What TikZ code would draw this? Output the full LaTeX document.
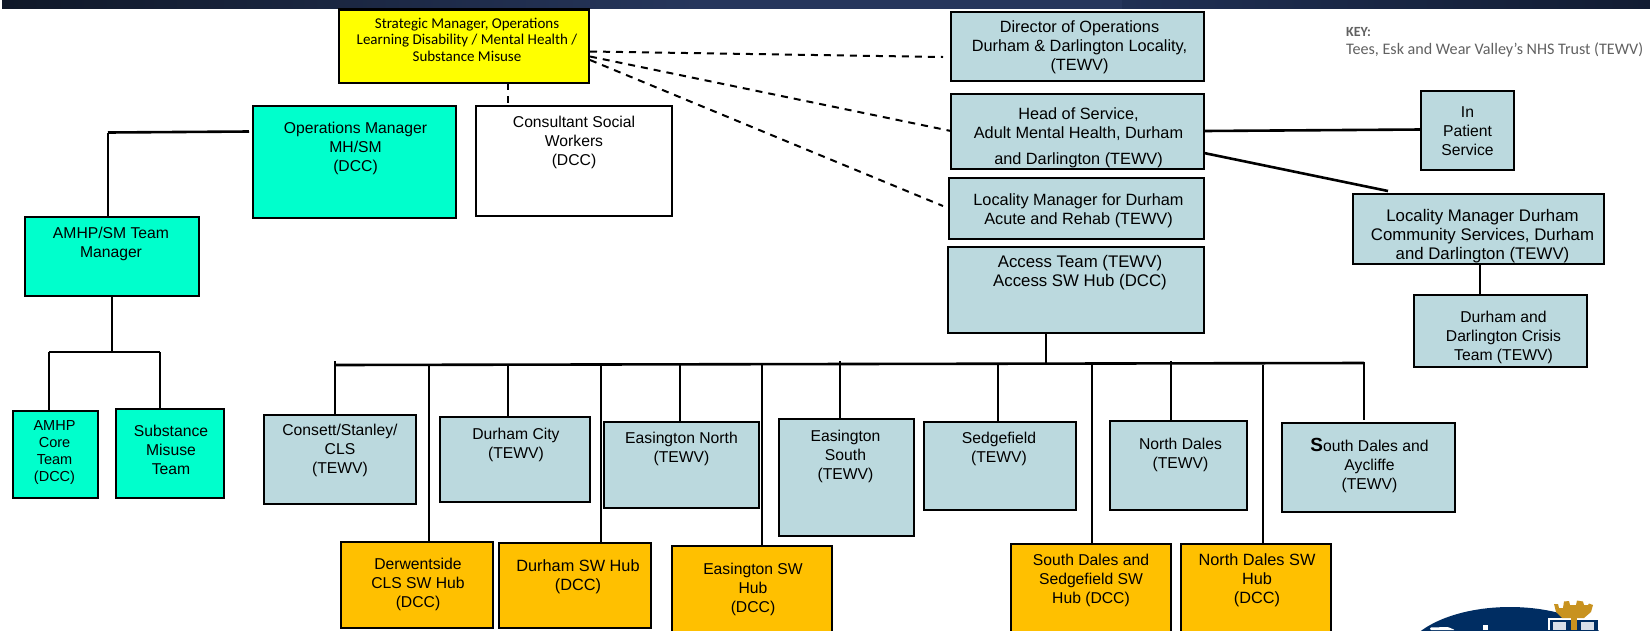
\documentclass[tikz,border=0pt]{standalone}
\usepackage{fontspec}
\setmainfont{Liberation Sans}
\newfontfamily\calib{Carlito}
\definecolor{purefill}{HTML}{FFFF00}
\definecolor{tealfill}{HTML}{00FFCC}
\definecolor{palefill}{HTML}{BBD9DE}
\definecolor{amberfill}{HTML}{FFC000}
\definecolor{logonavy}{HTML}{002D62}
\definecolor{crestgold}{HTML}{C8921F}
\definecolor{barA}{HTML}{101828}
\definecolor{barB}{HTML}{26365C}
\definecolor{barC}{HTML}{203054}
\definecolor{barD}{HTML}{121C32}
\tikzset{
  cardbox/.style={draw=black,line width=2.4pt,inner sep=0pt,outer sep=0pt,anchor=north west,font=\fontsize{15.7}{19}\selectfont},
  yellowbox/.style={cardbox,fill=purefill,font=\calib\fontsize{15}{16.5}\selectfont},
  tealbox/.style={cardbox,fill=tealfill},
  corebox/.style={cardbox,fill=tealfill,font=\fontsize{14.5}{17}\selectfont},
  whitebox/.style={cardbox,fill=white},
  palebox/.style={cardbox,fill=palefill},
  amberbox/.style={cardbox,fill=amberfill},
  widetext/.style={font=\fontsize{16.3}{19}\selectfont},
  widertext/.style={font=\fontsize{16.8}{19}\selectfont},
  link/.style={draw=black,line width=1.8pt},
  buslink/.style={draw=black,line width=2.6pt},
  dashlink/.style={draw=black,line width=2pt,dash pattern=on 7pt off 6pt},
  keytext/.style={inner sep=0pt,anchor=base west,text=black!62,font=\calib\fontsize{16.1}{18}\selectfont},
}
% name, style, x0, y0, x1, y1, first-baseline offset, text shift, text
\newcommand{\bx}[9]{%
  \pgfmathsetlengthmacro{\bw}{(#5)-(#3)}%
  \pgfmathsetlengthmacro{\bh}{(#6)-(#4)}%
  \node[#2] (#1) at (#3,#4) {\parbox[t][\bh][t]{\bw}{\centering
    \leftskip=\dimexpr #8pt*2\relax plus 1fil
    \rule{0pt}{#7pt}#9}};}
\begin{document}
\begin{tikzpicture}[x=1pt,y=-1pt]
\useasboundingbox (0,0) rectangle (1650,630);
% banner
\shade[left color=barA,right color=barB,draw=none] (2,-1) rectangle (700,8.5);
\fill[barB] (699,-1) rectangle (1123,8.5);
\shade[left color=barC,right color=barD,draw=none] (1122,-1) rectangle (1651,8.5);
% boxes
\bx{strategic}{yellowbox}{339}{9.5}{589}{83}{18.5}{3}{Strategic Manager, Operations\\Learning Disability / Mental Health /\\Substance Misuse}
\bx{opsmgr}{tealbox}{253}{106}{456}{218}{27}{1}{Operations Manager\\MH/SM\\(DCC)}
\bx{consultant}{whitebox}{476}{106}{672}{216}{21}{0}{Consultant Social\\Workers\\(DCC)}
\bx{amhpsm}{tealbox}{25}{217}{199}{296}{21}{-1}{AMHP/SM Team\\Manager}
\bx{amhpcore}{corebox}{13}{411}{98}{498}{19}{-1}{AMHP\\Core\\Team\\(DCC)}
\bx{substance}{tealbox}{116}{409}{224}{498}{27}{1}{Substance\\Misuse\\Team}
\bx{director}{palebox,widetext}{951}{12}{1204}{81}{20}{2}{Director of Operations\\Durham \& Darlington Locality,\\(TEWV)}
\bx{head}{palebox,widetext}{951}{94}{1204}{169}{25.5}{1}{Head of Service,\\Adult Mental Health, Durham\\[7pt]and Darlington (TEWV)}
\bx{acute}{palebox,widetext}{949}{178}{1204}{239}{27}{2}{Locality Manager for Durham\\Acute and Rehab (TEWV)}
\bx{access}{palebox,widertext}{948}{247}{1204}{333}{20.5}{4}{Access Team (TEWV)\\Access SW Hub (DCC)}
\bx{inpatient}{palebox}{1421}{91}{1514}{170}{26}{0}{In\\Patient\\Service}
\bx{community}{palebox,widertext}{1353}{194}{1604}{264}{27}{4}{Locality Manager Durham\\Community Services, Durham\\and Darlington (TEWV)}
\bx{crisis}{palebox}{1414}{295}{1587}{367}{27}{3}{Durham and\\Darlington Crisis\\Team (TEWV)}
\bx{consett}{palebox}{264}{415}{416}{504}{20}{0}{Consett/Stanley/\\CLS\\(TEWV)}
\bx{durcity}{palebox}{440}{417}{590}{502}{22}{1}{Durham City\\(TEWV)}
\bx{easnorth}{palebox}{604}{422}{759}{508}{21}{0}{Easington North\\(TEWV)}
\bx{eassouth}{palebox}{779}{419}{914}{536}{22}{-1}{Easington\\South\\(TEWV)}
\bx{sedge}{palebox}{924}{422}{1076}{510}{21}{-1}{Sedgefield\\(TEWV)}
\bx{northd}{palebox}{1110}{421}{1247}{510}{28}{2}{North Dales\\(TEWV)}
\bx{southd}{palebox}{1282}{423}{1455}{512}{28}{1}{{\bfseries\fontsize{19}{19}\selectfont S}outh Dales and\\Aycliffe\\(TEWV)}
\bx{derwent}{amberbox}{341}{542}{493}{628}{27}{1}{Derwentside\\CLS SW Hub\\(DCC)}
\bx{durhub}{amberbox,widetext}{499}{543}{651}{628}{28}{3}{Durham SW Hub\\(DCC)}
\bx{eashub}{amberbox}{672}{546}{832}{634}{28}{1}{Easington SW\\Hub\\(DCC)}
\bx{southhub}{amberbox}{1011}{544}{1171}{632}{21}{0}{South Dales and\\Sedgefield SW\\Hub (DCC)}
\bx{northhub}{amberbox,widetext}{1181}{544}{1331}{632}{21}{1}{North Dales SW\\Hub\\(DCC)}
% key
\node[keytext,font=\calib\bfseries\fontsize{14}{16}\selectfont] (keyhead) at (1346,36) {KEY:};
\node[keytext] (keyline) at (1346,54.5) {Tees, Esk and Wear Valley’s NHS Trust (TEWV)};
% dashed links
\coordinate (sA) at (590,51.5);
\coordinate (sB) at (590,56.5);
\coordinate (sC) at (590,60);
\coordinate (sD) at (508,83);
\coordinate (dA) at (943,57);
\coordinate (dB) at (951,131);
\coordinate (dC) at (943,206);
\draw[dashlink] (sA) -- (dA);
\draw[dashlink] (sB) -- (dB);
\draw[dashlink] (sC) -- (dC);
\draw[dashlink] (sD) -- (sD |- consultant.north);
% left tree
\coordinate (omOut) at (249,131.5);
\coordinate (omElbow) at (108,132.5);
\draw[buslink] (omOut) -- (omElbow);
\draw[link] (omElbow) -- (omElbow |- amhpsm.north);
\coordinate (smOut) at (112,296);
\coordinate (smBusL) at (49,352);
\coordinate (smBusR) at (160,352);
\coordinate (smBusM) at (112,352);
\draw[link] (smOut) -- (smBusM);
\draw[buslink] (smBusL) -- (smBusR);
\draw[link] (smBusL) -- (smBusL |- amhpcore.north);
\draw[link] (smBusR) -- (smBusR |- substance.north);
% right links
\coordinate (hA) at (1204,131);
\coordinate (ipIn) at (1421,129.5);
\coordinate (hB) at (1204,153);
\coordinate (cmIn) at (1388,191);
\coordinate (cmOut) at (1480,264);
\draw[buslink] (hA) -- (ipIn);
\draw[buslink] (hB) -- (cmIn);
\draw[link] (cmOut) -- (cmOut |- crisis.north);
% main bus
\coordinate (acOut) at (1046,333);
\coordinate (busL) at (335,365);
\coordinate (busR) at (1364,363);
\coordinate (busM) at (1046,363.5);
\draw[link] (acOut) -- (busM);
\draw[buslink] (busL) -- (busR);
\coordinate (t1) at (335,361);
\coordinate (t2) at (429,365);
\coordinate (t3) at (508,365);
\coordinate (t4) at (601,363);
\coordinate (t5) at (680,365);
\coordinate (t6) at (762,363);
\coordinate (t7) at (840,361);
\coordinate (t8) at (998,364);
\coordinate (t9) at (1092,364);
\coordinate (t10) at (1171,361);
\coordinate (t11) at (1263,365);
\coordinate (t12) at (1364,362);
\coordinate (t12end) at (1364,420);
\draw[link] (t1) -- (t1 |- consett.north);
\draw[link] (t2) -- (t2 |- derwent.north);
\draw[link] (t3) -- (t3 |- durcity.north);
\draw[link] (t4) -- (t4 |- durhub.north);
\draw[link] (t5) -- (t5 |- easnorth.north);
\draw[link] (t6) -- (t6 |- eashub.north);
\draw[link] (t7) -- (t7 |- eassouth.north);
\draw[link] (t8) -- (t8 |- sedge.north);
\draw[link] (t9) -- (t9 |- southhub.north);
\draw[link] (t10) -- (t10 |- northd.north);
\draw[link] (t11) -- (t11 |- northhub.north);
\draw[link] (t12) -- (t12end);
% logo
\begin{scope}
\clip (1380,590) rectangle (1650,630);
\fill[logonavy] (1510,662) ellipse [x radius=108,y radius=55];
\fill[white,rounded corners=1pt] (1430,627.5) -- (1448,627) -- (1455,630) -- (1430,630) -- cycle;
\fill[white] (1483,625) rectangle (1488,630);
\fill[white] (1548,618) rectangle (1599,630);
\fill[logonavy] (1549.5,619.5) rectangle (1597.5,630);
\fill[white!85!logonavy] (1553,622) rectangle (1566,630);
\fill[white!85!logonavy] (1581,622) rectangle (1594,630);
\fill[crestgold] (1570.5,618) rectangle (1576.5,630);
\fill[crestgold] (1554,604) -- (1558,604) -- (1559,608) -- (1563,608) -- (1564,601.5) -- (1569,601) -- (1570,605) -- (1576,605) -- (1577,600.5) -- (1583,601.5) -- (1584,605) -- (1588,605) -- (1589,603.5) -- (1593,605) -- (1591,612) -- (1584,618) -- (1562,618) -- (1556,612) -- cycle;
\end{scope}
\end{tikzpicture}
\end{document}
